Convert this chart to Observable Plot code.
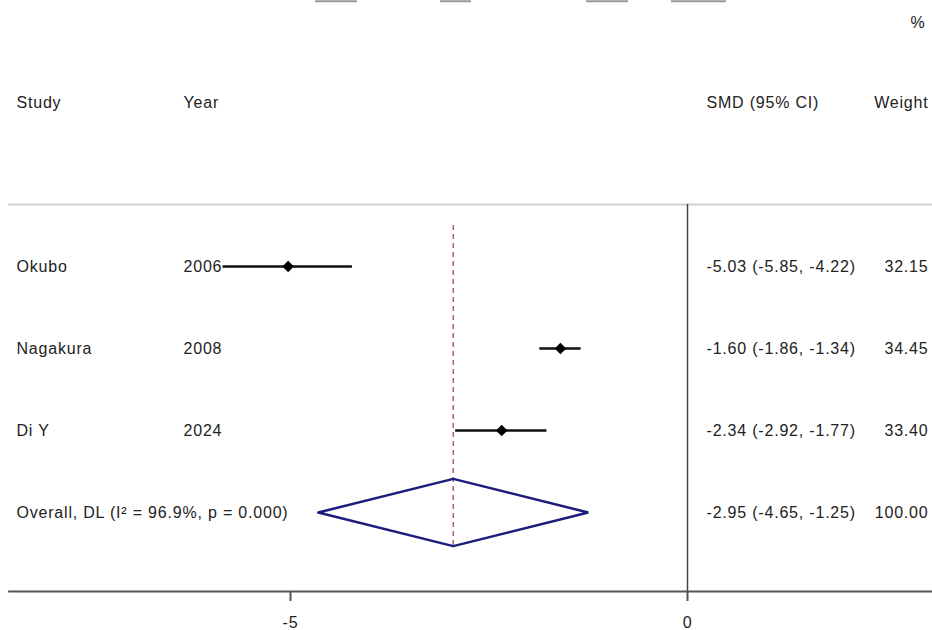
<!DOCTYPE html>
<html>
<head>
<meta charset="utf-8">
<script src="https://cdn.jsdelivr.net/npm/d3@7"></script>
<script src="https://cdn.jsdelivr.net/npm/@observablehq/plot@0.6"></script>
<style>
  html, body { margin: 0; padding: 0; background: #fff; }
  svg { display: block; }
  svg text { letter-spacing: 0.8px; }
</style>
</head>
<body>
<div id="chart"></div>
<script>
// ---- data ----
const studies = ["Okubo", "Nagakura", "Di Y"];
const years = ["2006", "2008", "2024"];
const smd = [-5.03, -1.60, -2.34];
const lower = [-5.85, -1.86, -2.92];
const upper = [-4.22, -1.34, -1.77];
const weights = [32.15, 34.45, 33.40];
const smdLabels = ["-5.03 (-5.85, -4.22)", "-1.60 (-1.86, -1.34)", "-2.34 (-2.92, -1.77)"];
const weightLabels = ["32.15", "34.45", "33.40"];

const overallLabel = "Overall, DL (I² = 96.9%, p = 0.000)";
const overallEst = -2.95, overallLo = -4.65, overallHi = -1.25;
const overallSmdLabel = "-2.95 (-4.65, -1.25)";
const overallWeightLabel = "100.00";

const headers = ["Study", "Year", "SMD (95% CI)", "Weight"];
const xTicks = [-5, 0];
// faint cropped underlines at the very top (x in SMD units)
const topSegments = [[-4.685, -4.156], [-3.111, -2.720], [-1.272, -0.743], [-0.2015, 0.491]];

// ---- build ----
const rows = studies.map((s, i) => ({
  study: s, year: years[i], est: smd[i], lo: lower[i], hi: upper[i],
  w: weights[i], smdLabel: smdLabels[i], wLabel: weightLabels[i], row: i + 1
}));
const overallRow = 4;
const headerRow = -1;
const diamondH = 0.41;
const diamond = [
  {x: overallLo, y: overallRow},
  {x: overallEst, y: overallRow - diamondH},
  {x: overallHi, y: overallRow},
  {x: overallEst, y: overallRow + diamondH},
  {x: overallLo, y: overallRow}
];

const font = "Liberation Sans, Arial, sans-serif";
const txt = "#222";
const fs = 16;

const textCol = (data, field, dx, anchor) => Plot.text(data, {
  x: null, frameAnchor: "left", y: "row", text: field, dx: dx,
  textAnchor: anchor, fontSize: fs, fill: txt
});
const headText = (label, dx, anchor, y) => Plot.text([label], {
  x: null, frameAnchor: "left", y: () => y, text: d => d, dx: dx,
  textAnchor: anchor, fontSize: fs, fill: txt
});

const allRowsText = [...rows, {study: overallLabel, row: overallRow, smdLabel: overallSmdLabel, wLabel: overallWeightLabel}];

const chart = Plot.plot({
  width: 932,
  height: 630,
  marginTop: 0, marginLeft: 0, marginRight: 0, marginBottom: 39,
  style: {fontFamily: font, fontSize: fs + "px", background: "#fff"},
  x: {domain: [-687 / 79.4, (932 - 687) / 79.4], range: [0, 932]},
  y: {domain: [0, 4], range: [184, 512], axis: null},
  marks: [
    // top cropped segments
    ...topSegments.map(s => Plot.ruleY([-2.235], {x1: s[0], x2: s[1], stroke: "#999", strokeWidth: 2})),
    // header separator line
    Plot.ruleY([0.244], {x1: -8.55, x2: 3.09, stroke: "#cfcfcf", strokeWidth: 2}),
    // axis line
    Plot.ruleY([4.963], {x1: -8.55, x2: 3.09, stroke: "#555", strokeWidth: 2}),
    // null line
    Plot.ruleX([0], {y1: 0.244, y2: 4.963, stroke: "#444", strokeWidth: 1.5}),
    // overall effect dashed line
    Plot.ruleX([overallEst], {y1: 0.5, y2: 4.4, stroke: "#b46060", strokeWidth: 1.5, strokeDasharray: "5,4"}),
    // weight boxes
    Plot.dot(rows, {x: "est", y: "row", symbol: "square", r: d => 6.2 * Math.sqrt(d.w / 33), fill: "#c8c8c8", stroke: "none"}),
    // CIs
    Plot.ruleY(rows, {y: "row", x1: "lo", x2: "hi", stroke: "#111", strokeWidth: 2.5}),
    // point estimates
    Plot.dot(rows, {x: "est", y: "row", symbol: "diamond2", r: 5.2, fill: "#000", stroke: "none"}),
    // overall diamond
    Plot.line(diamond, {x: "x", y: "y", stroke: "#1c1c7c", strokeWidth: 2.5, strokeLinejoin: "miter"}),
    // headers
    headText(headers[0], 16, "start", headerRow),
    headText(headers[1], 183, "start", headerRow),
    headText(headers[2], 706, "start", headerRow),
    headText(headers[3], 928, "end", headerRow),
    headText("%", 925, "end", -1.976),
    // columns
    textCol(allRowsText, "study", 16, "start"),
    textCol(rows, "year", 183, "start"),
    textCol(allRowsText, "smdLabel", 706, "start"),
    textCol(allRowsText, "wLabel", 928, "end"),
    // x axis
    Plot.axisX({ticks: xTicks, tickFormat: d => String(d), tickSize: 10, tickPadding: 15, fontSize: fs, stroke: "#555", strokeWidth: 2, color: txt, label: null})
  ]
});
document.getElementById("chart").append(chart);
</script>
</body>
</html>
